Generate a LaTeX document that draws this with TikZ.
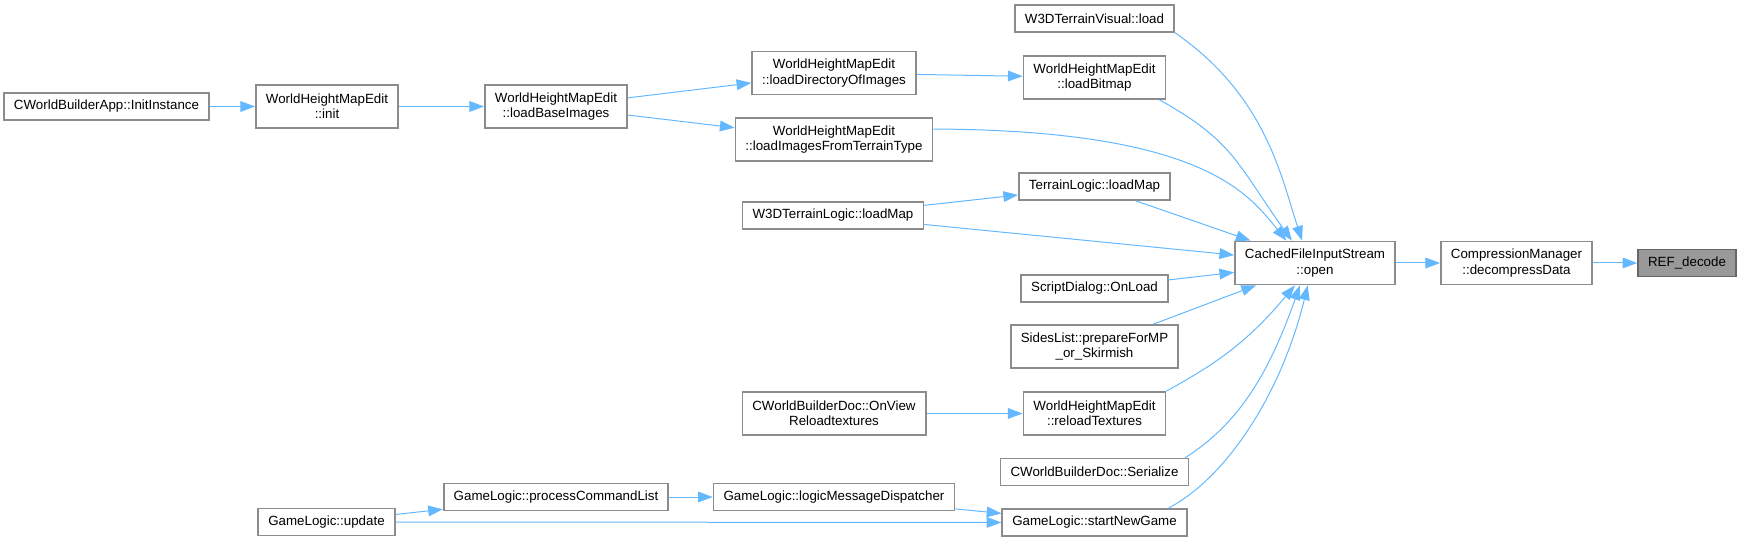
\documentclass[tikz,border=0pt]{standalone}
\usepackage{fontspec}
\setmainfont{Liberation Sans}
\usetikzlibrary{arrows.meta}

\definecolor{edgeblue}{HTML}{63B8FF}
\definecolor{boxgray}{HTML}{999999}
\definecolor{boxline}{HTML}{8C8C8C}
\definecolor{boxdark}{HTML}{666666}

\tikzset{
    fn/.style={draw=boxline, line width=1.3pt, fill=white, inner xsep=7.5pt, inner ysep=2pt,
        minimum height=20.25pt, align=center, font=\fontsize{10}{11.5}\selectfont},
    fn2/.style={fn, minimum height=32.25pt},
    focus/.style={fill=boxgray, draw=boxdark},
    call/.style={draw, color=edgeblue, line width=0.75pt, -{Triangle[length=11pt, width=8pt]}},
}

\begin{document}
\begin{tikzpicture}[x=0.75pt, y=-0.75pt]
    \useasboundingbox (0,0) rectangle (1741,541);

    % callers, left to right
    \node[fn] (app) at (106.5,106.5) {CWorldBuilderApp::InitInstance};
    \node[fn2] (init) at (327,106.5) {WorldHeightMapEdit\\::init};
    \node[fn2] (base) at (556,106.5) {WorldHeightMapEdit\\::loadBaseImages};
    \node[fn2] (dir) at (834,73) {WorldHeightMapEdit\\::loadDirectoryOfImages};
    \node[fn2] (imgs) at (834,139.5) {WorldHeightMapEdit\\::loadImagesFromTerrainType};
    \node[fn] (w3dmap) at (833,215.5) {W3DTerrainLogic::loadMap};
    \node[fn2] (viewrl) at (834,413.5) {CWorldBuilderDoc::OnView\\Reloadtextures};
    \node[fn] (proc) at (556,497) {GameLogic::processCommandList};
    \node[fn] (disp) at (834,497) {GameLogic::logicMessageDispatcher};
    \node[fn] (update) at (326.5,522) {GameLogic::update};

    % direct callers of open
    \node[fn] (vis) at (1094.5,18.5) {W3DTerrainVisual::load};
    \node[fn2] (bitmap) at (1094.5,77.5) {WorldHeightMapEdit\\::loadBitmap};
    \node[fn] (tlmap) at (1094.5,186.5) {TerrainLogic::loadMap};
    \node[fn] (script) at (1094.5,288.5) {ScriptDialog::OnLoad};
    \node[fn2] (sides) at (1094.5,346.5) {SidesList::prepareForMP\\\_or\_Skirmish};
    \node[fn2] (reload) at (1094.5,413.5) {WorldHeightMapEdit\\::reloadTextures};
    \node[fn] (ser) at (1094.5,472) {CWorldBuilderDoc::Serialize};
    \node[fn] (newgame) at (1094.5,522.5) {GameLogic::startNewGame};

    \node[fn2] (open) at (1315,263) {CachedFileInputStream\\::open};
    \node[fn2] (decomp) at (1516.5,263) {CompressionManager\\::decompressData};
    \node[fn, focus] (ref) at (1687,263) {REF\_decode};

    \path[call]
        (app)    edge (init)
        (init)   edge (base)
        (base)   edge (dir)
                 edge (imgs)
        (dir)    edge (bitmap)
        (w3dmap) edge (tlmap)
                 edge (open)
        (viewrl) edge (reload)
        (update) edge (proc)
                 edge (newgame)
        (proc)   edge (disp)
        (disp)   edge (newgame)
        (tlmap)  edge (open)
        (script) edge (open)
        (sides)  edge (open)
        (open)   edge (decomp)
        (decomp) edge (ref);

    % bent calls into open
    \draw[call] (vis.-10) .. controls +(91,63) and +(-21,-64) .. (open.120);
    \draw[call] (bitmap.-19) .. controls +(74,41) and +(-55,-77) .. (open.136);
    \draw[call] (imgs.6) .. controls +(269,1) and +(-38,-47) .. (open.142);
    \draw[call] (reload.north east) .. controls +(45,-25) and +(-50,60) .. (open.-132);
    \draw[call] (ser.9) .. controls +(52,-33) and +(-32,91) .. (open.-124);
    \draw[call] (newgame.11) .. controls +(59,-31) and +(-26,107) .. (open.-108);

\end{tikzpicture}
\end{document}
